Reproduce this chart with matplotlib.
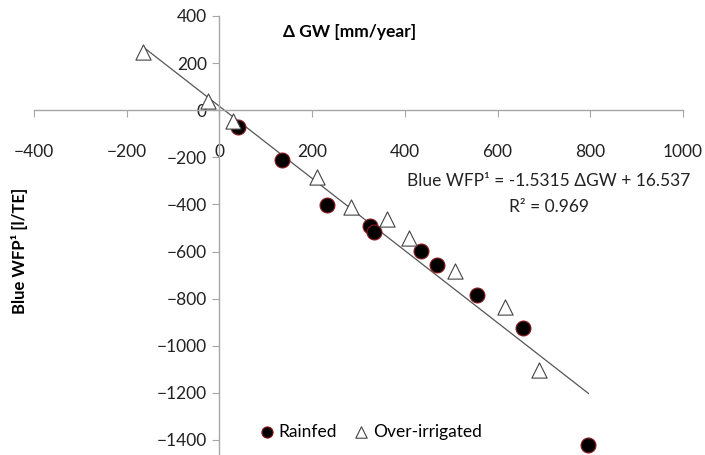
"""
Blue WFP versus change in groundwater, rainfed and over-irrigated sites.
"""

import matplotlib
matplotlib.use("Agg")
import matplotlib.pyplot as plt
import numpy as np

plt.rcParams["font.family"] = ["Lato", "DejaVu Sans"]

# values
rainfed_dgw = [41, 135, 231, 324, 334, 434, 470, 556, 654, 796]
rainfed_wfp = [-73, -213, -403, -492, -518, -596, -656, -783, -924, -1421]

irrig_dgw = [-165, -24, 30, 211, 283, 362, 408, 509, 615, 690]
irrig_wfp = [247, 38, -47, -285, -409, -464, -541, -681, -834, -1102]

slope = -1.5315
intercept = 16.537
r2 = 0.969

x_ticks = [-400, -200, 0, 200, 400, 600, 800, 1000]
y_ticks = [-1400, -1200, -1000, -800, -600, -400, -200, 0, 200, 400]

W, H = 705, 455
fig = plt.figure(figsize=(W / 100, H / 100), dpi=100)
ax = fig.add_axes([34 / W, 0, 649 / W, 439 / H])

ax.set_xlim(-400, 1000)
ax.set_ylim(-1464, 400)

axis_col = "#a6a6a6"
for side in ["top", "right"]:
    ax.spines[side].set_visible(False)
ax.spines["left"].set_position(("data", 0))
ax.spines["bottom"].set_position(("data", 0))
for side in ["left", "bottom"]:
    ax.spines[side].set_color(axis_col)
    ax.spines[side].set_linewidth(1.0)

ax.set_xticks(x_ticks)
ax.set_yticks(y_ticks)
ax.tick_params(axis="x", direction="out", length=5, color=axis_col, pad=19,
               labelsize=12.5, labelcolor="#222222")
ax.tick_params(axis="y", direction="out", length=5, color=axis_col, pad=4,
               labelsize=12.5, labelcolor="#222222")

# trendline over the range of all points
all_x = np.array(rainfed_dgw + irrig_dgw)
tx = np.array([all_x.min(), all_x.max()])
ax.plot(tx, slope * tx + intercept, color="#555555", lw=0.9, zorder=2)

ax.scatter(rainfed_dgw, rainfed_wfp, s=115, marker="o", facecolor="black",
           edgecolor="#8b1a1a", linewidth=0.8, zorder=3, label="Rainfed")
ax.scatter(irrig_dgw, irrig_wfp, s=120, marker="^", facecolor="white",
           edgecolor="#444444", linewidth=0.8, zorder=3, label="Over-irrigated")

fig.text(350 / W, 1 - 32 / H, "Δ GW [mm/year]", ha="center", va="center",
         fontsize=12.5, fontweight="bold")
fig.text(20 / W, 1 - 251 / H, "Blue WFP¹ [l/TE]", ha="center", va="center",
         rotation=90, fontsize=12, fontweight="bold",
         family=["Liberation Sans Narrow", "Lato", "DejaVu Sans"])

fig.text(549 / W, 1 - 181 / H, "Blue WFP¹ = -1.5315 ΔGW + 16.537", ha="center",
         va="center", fontsize=12.5, color="#222222")
fig.text(549 / W, 1 - 207 / H, "R² = %.3f" % r2, ha="center", va="center",
         fontsize=12.5, color="#222222")

fig.legend(loc="center", bbox_to_anchor=(371 / W, 1 - 432 / H), ncol=2,
           frameon=False, fontsize=12.5, handlelength=0.8, handletextpad=0.25,
           columnspacing=1.0, markerscale=0.75, borderpad=0.2)

fig.savefig("out.png", dpi=100)
